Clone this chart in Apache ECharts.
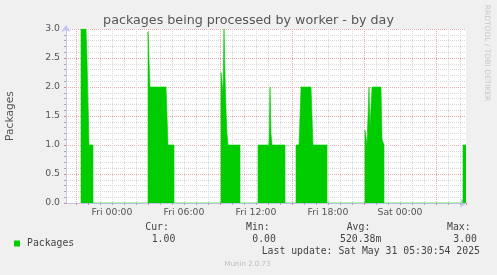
<!DOCTYPE html>
<html><head><meta charset="utf-8">
<script src="https://cdn.jsdelivr.net/npm/echarts@6/dist/echarts.min.js"></script>
<style>html,body{margin:0;padding:0;background:#f0f0f0}#c{width:497px;height:275px}</style>
</head><body><div id="c"></div>
<script>
// ---- data ----
const sampleTimes = [
  'Thu 21:25','Thu 21:25','Thu 21:50','Thu 21:55','Thu 22:00','Thu 22:05','Thu 22:25','Thu 22:25',
  'Fri 03:00','Fri 03:00','Fri 03:10','Fri 04:30','Fri 04:40','Fri 05:10','Fri 05:10',
  'Fri 09:05','Fri 09:05','Fri 09:10','Fri 09:15','Fri 09:20','Fri 09:25','Fri 09:30','Fri 09:35','Fri 09:40','Fri 10:40','Fri 10:40',
  'Fri 12:10','Fri 12:10','Fri 13:05','Fri 13:10','Fri 13:15','Fri 13:20','Fri 14:25','Fri 14:25',
  'Fri 15:20','Fri 15:20','Fri 15:35','Fri 15:45','Fri 16:35','Fri 16:45','Fri 17:55','Fri 17:55',
  'Fri 21:05','Fri 21:05','Fri 21:10','Fri 21:15','Fri 21:20','Fri 21:25','Fri 21:30','Fri 21:35','Fri 21:40','Fri 22:25','Fri 22:30','Fri 22:40','Fri 22:40',
  'Sat 05:15','Sat 05:15','Sat 05:30'
];
const packageValues = [
  0,3,3,2.5,1.7,1,1,0,
  0,2.95,2,2,1,1,0,
  0,2.25,2.25,1.9,3,2.2,1.6,1.2,1,1,0,
  0,1,1,2,1.2,1,1,0,
  0,1,1,2,2,1,1,0,
  0,1.25,1.25,1,1,2,1.3,1.3,2,2,1.1,1,0,
  0,1,1
];
const xTickLabels = ['Fri 00:00','Fri 06:00','Fri 12:00','Fri 18:00','Sat 00:00'];
const rangeStart = 'Thu 20:10';
const rangeEnd = 'Sat 05:30';
const statNames = ['Cur:','Min:','Avg:','Max:'];
const statValues = ['1.00','0.00','520.38m','3.00'];
const seriesName = 'Packages';
const lastUpdate = 'Last update: Sat May 31 05:30:54 2025';

// ---- helpers ----
const dayOffset = {Thu:-24, Fri:0, Sat:24};
function toHours(s){ const [d,t]=s.split(' '); const [h,m]=t.split(':').map(Number); return dayOffset[d]+h+m/60; }
const xMin = toHours(rangeStart), xMax = toHours(rangeEnd);
const seriesData = sampleTimes.map((t,i)=>[toHours(t), packageValues[i]]);

const AX = '#c4c4f0', MINOR = '#d8d8d8', MAJOR = '#e6a8a8', TXT = '#555';
const SANS = 'DejaVu Sans', MONO = 'DejaVu Sans Mono';
const plotLeft = 66, plotTop = 29, plotW = 400, plotH = 174;
const pxPerHour = plotW/(xMax-xMin);
const gridStartH = Math.ceil(xMin);            // first whole hour inside plot
const gLeft = plotLeft + (gridStartH-xMin)*pxPerHour;
const lLeft = plotLeft + (0-xMin)*pxPerHour;

const chart = echarts.init(document.getElementById('c'), null, {renderer:'canvas'});
const hiddenY = gi => ({type:'value', gridIndex:gi, min:0, max:3, show:false});
const statText = [];
const statX = [145.3, 246, 346.7, 447], valX = [151.7, 252.3, 340, 453.3];
statNames.forEach((n,i)=>{
  statText.push({type:'text', x:statX[i], y:227.7, style:{text:n, font:'9.8px "'+MONO+'"', fill:'#444', verticalAlign:'middle', align:'left'}});
  statText.push({type:'text', x:valX[i], y:239.3, style:{text:statValues[i], font:'9.8px "'+MONO+'"', fill:'#444', verticalAlign:'middle', align:'left'}});
});
statText.push({type:'text', x:261.7, y:251.7, style:{text:lastUpdate, font:'9.8px "'+MONO+'"', fill:'#444', verticalAlign:'middle', align:'left'}});
statText.push({type:'text', x:247.5, y:264, style:{text:'Munin 2.0.73', font:'7px "'+SANS+'"', fill:'#bbb', verticalAlign:'middle', align:'center'}});
statText.push({type:'text', x:486.5, y:53, rotation:-Math.PI/2, style:{text:'RRDTOOL / TOBI OETIKER', font:'7.5px "'+SANS+'"', fill:'#c8c8c8', verticalAlign:'middle', align:'center'}});

const gridBase = {top:plotTop, height:plotH, containLabel:false, outerBoundsMode:'none'};
chart.setOption({
  backgroundColor:'#f0f0f0',
  animation:false,
  title:{text:'packages being processed by worker - by day', left:'center', top:9,
    textStyle:{fontFamily:SANS, fontSize:12.7, fontWeight:'normal', color:TXT}},
  legend:{data:[{name:seriesName, icon:'rect'}], left:9, top:233.5, itemWidth:6, itemHeight:6,
    itemStyle:{color:'#00cc00'}, textStyle:{fontFamily:MONO, fontSize:9.8, color:'#444', padding:[0,0,0,2]}},
  grid:[
    Object.assign({left:plotLeft, width:plotW, show:true, backgroundColor:'#fff', borderWidth:0}, gridBase),
    Object.assign({left:gLeft, width:plotLeft+plotW-gLeft, show:false}, gridBase),
    Object.assign({left:gLeft, width:plotLeft+plotW-gLeft, show:false}, gridBase),
    Object.assign({left:lLeft, width:plotLeft+plotW-lLeft, show:false}, gridBase)
  ],
  xAxis:[
    {type:'value', gridIndex:0, min:xMin, max:xMax, z:0,
      axisLine:{show:true, onZero:false, lineStyle:{color:AX}, symbol:['none','arrow'], symbolSize:[7,7], symbolOffset:[0,1]},
      axisTick:{show:false}, axisLabel:{show:false}, splitLine:{show:false}},
    {type:'value', gridIndex:1, min:gridStartH, max:xMax, interval:1, z:0,
      axisLine:{show:false}, axisLabel:{show:false},
      axisTick:{show:true, length:2, lineStyle:{color:'#aaa'}},
      splitLine:{show:true, showMaxLine:false, lineStyle:{color:MINOR, type:[1,1]}}},
    {type:'value', gridIndex:2, min:gridStartH, max:xMax, interval:6, z:0,
      axisLine:{show:false}, axisLabel:{show:false},
      axisTick:{show:true, length:2, lineStyle:{color:'#e08080'}},
      splitLine:{show:true, showMaxLine:false, lineStyle:{color:MAJOR, type:[1,1]}}},
    {type:'value', gridIndex:3, min:0, max:xMax, interval:6, z:0,
      axisLine:{show:false}, axisTick:{show:false}, splitLine:{show:false},
      axisLabel:{show:true, showMaxLabel:false, margin:5, fontFamily:SANS, fontSize:9.3, color:TXT,
        formatter:(v)=>xTickLabels[Math.round(v/6)] || ''}}
  ],
  yAxis:[
    {type:'value', gridIndex:0, min:0, max:3, interval:0.5, z:0,
      name:'Packages', nameLocation:'middle', nameRotate:90, nameGap:50,
      nameTextStyle:{fontFamily:SANS, fontSize:10.7, color:TXT},
      axisLine:{show:true, onZero:false, lineStyle:{color:AX}, symbol:['none','arrow'], symbolSize:[7,7], symbolOffset:[0,4]},
      axisTick:{show:true, length:2, lineStyle:{color:'#e08080'}},
      minorTick:{show:true, splitNumber:5, length:2, lineStyle:{color:'#aaa'}},
      axisLabel:{margin:6, fontFamily:SANS, fontSize:9.3, color:TXT, formatter:v=>v.toFixed(1)},
      splitLine:{show:true, lineStyle:{color:MAJOR, type:[1,1]}},
      minorSplitLine:{show:true, lineStyle:{color:MINOR, type:[1,1]}}},
    hiddenY(1), hiddenY(2), hiddenY(3)
  ],
  series:[{
    name:seriesName, type:'line', xAxisIndex:0, yAxisIndex:0, data:seriesData,
    showSymbol:false, silent:true, z:10, color:'#00cc00',
    lineStyle:{width:0.6, color:'#00cc00'}, areaStyle:{color:'#00cc00', opacity:1}
  }],
  graphic:statText
});
</script></body></html>
